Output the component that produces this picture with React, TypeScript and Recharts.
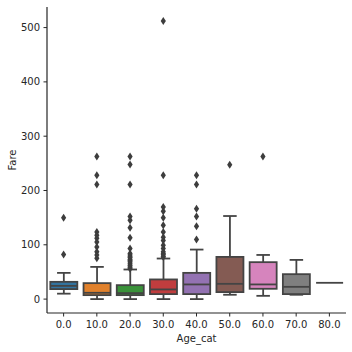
import { ComposedChart, Bar, Scatter, XAxis, YAxis } from 'recharts';

const CATS = ['0.0', '10.0', '20.0', '30.0', '40.0', '50.0', '60.0', '70.0', '80.0'];
const COLORS = ['#3274a1', '#e1812c', '#3a923a', '#c03d3e', '#9372b2', '#845b53', '#d684bd', '#7f7f7f', '#a9aa35'];

const WHISKER_LO = [10, 0, 0, 0, 0, 8, 6, 8, 30];
const Q1 = [18.4, 7.3, 7.3, 9.2, 9.2, 12.9, 19, 9.2, 30];
const MEDIAN = [24.4, 11.6, 11, 17.8, 27, 28.1, 27, 22.6, 30];
const Q3 = [31.8, 29.4, 25.7, 36.2, 48.3, 77.7, 68, 45.9, 30];
const WHISKER_HI = [48.3, 59.3, 54.5, 74.7, 91.2, 153, 81.3, 72.2, 30];

const OUTLIERS: number[][] = [
  [150, 82],
  [262.5, 228, 211, 123.5, 117.5, 112, 105, 96, 87, 81, 75],
  [262.5, 248, 211, 152, 145, 131.6, 113, 93, 84, 81, 78, 76, 73, 71, 69, 66, 63, 61, 58, 56],
  [512, 228, 169.5, 162, 150, 136, 123.5, 114, 108, 99, 93, 87, 84, 82, 79, 77.5],
  [228, 211, 166.5, 152, 134, 109.6],
  [247.5],
  [262.5],
  [],
  [],
];

const Y_TICKS = [0, 100, 200, 300, 400, 500];
const Y_MIN = -25.6;
const Y_MAX = 537.9;

const EDGE = '#444444';
const TEXT = '#262626';

const boxData = CATS.map((c, i) => ({
  x: i,
  lo: WHISKER_LO[i],
  q1: Q1[i],
  med: MEDIAN[i],
  q3: Q3[i],
  hi: WHISKER_HI[i],
}));

const outlierData = OUTLIERS.flatMap((vals, i) => vals.map(v => ({ x: i, fare: v })));

// the bar spans [Y_MIN, hi] so its pixel box gives the y scale for the other stats
function BoxShape(props: any) {
  const { x, y, width, height, payload, index } = props;
  const span = payload.hi - Y_MIN;
  const py = (v: number) => y + ((payload.hi - v) * height) / span;
  const cx = x + width / 2;
  const capW = width * 0.5;
  const top = py(payload.q3);
  const bot = py(payload.q1);
  if (payload.hi === payload.lo) {
    return <line x1={x} x2={x + width} y1={py(payload.med)} y2={py(payload.med)} stroke={EDGE} strokeWidth={1.8} />;
  }
  return (
    <g>
      <line x1={cx} x2={cx} y1={py(payload.hi)} y2={top} stroke={EDGE} strokeWidth={1.8} />
      <line x1={cx} x2={cx} y1={bot} y2={py(payload.lo)} stroke={EDGE} strokeWidth={1.8} />
      <line x1={cx - capW / 2} x2={cx + capW / 2} y1={py(payload.hi)} y2={py(payload.hi)} stroke={EDGE} strokeWidth={1.8} />
      <line x1={cx - capW / 2} x2={cx + capW / 2} y1={py(payload.lo)} y2={py(payload.lo)} stroke={EDGE} strokeWidth={1.8} />
      <rect x={x} y={top} width={width} height={bot - top} fill={COLORS[index]} stroke={EDGE} strokeWidth={1.8} />
      <line x1={x} x2={x + width} y1={py(payload.med)} y2={py(payload.med)} stroke={EDGE} strokeWidth={1.8} />
    </g>
  );
}

function Diamond(props: any) {
  const { cx, cy } = props;
  return <path d={`M${cx},${cy - 4} L${cx + 2.6},${cy} L${cx},${cy + 4} L${cx - 2.6},${cy} Z`} fill="#3d3d3d" />;
}

export default function App() {
  return (
    <div style={{ position: 'absolute', left: 0, top: 0, width: 352, height: 352, background: '#fff' }}>
      <ComposedChart
        width={352}
        height={352}
        data={boxData}
        margin={{ top: 7, right: 6, left: 7, bottom: 0 }}
        barCategoryGap="10%"
        style={{ fontFamily: 'DejaVu Sans' }}
      >
        <XAxis
          dataKey="x"
          type="number"
          domain={[-0.5, 8.5]}
          ticks={[0, 1, 2, 3, 4, 5, 6, 7, 8]}
          tickFormatter={(i: number) => CATS[i]}
          height={39}
          tickSize={3.5}
          tickMargin={4}
          tick={{ fill: TEXT, fontSize: 10 }}
          axisLine={{ stroke: TEXT, strokeWidth: 1.2 }}
          tickLine={{ stroke: TEXT }}
          allowDataOverflow
          label={{ value: 'Age_cat', position: 'insideBottom', offset: 10, fill: TEXT, fontSize: 10 }}
        />
        <YAxis
          type="number"
          domain={[Y_MIN, Y_MAX]}
          ticks={Y_TICKS}
          width={40}
          tickSize={3.5}
          tickMargin={3.5}
          tick={{ fill: TEXT, fontSize: 10 }}
          axisLine={{ stroke: TEXT, strokeWidth: 1.2 }}
          tickLine={{ stroke: TEXT }}
          allowDataOverflow
          label={{ value: 'Fare', angle: -90, position: 'insideLeft', offset: 5, fill: TEXT, fontSize: 10, style: { textAnchor: 'middle' } }}
        />
        <Bar
          dataKey={(d: any) => [Y_MIN, d.hi]}
          shape={BoxShape}
          isAnimationActive={false}
        />
        <Scatter data={outlierData} dataKey="fare" shape={Diamond} isAnimationActive={false} />
      </ComposedChart>
    </div>
  );
}
